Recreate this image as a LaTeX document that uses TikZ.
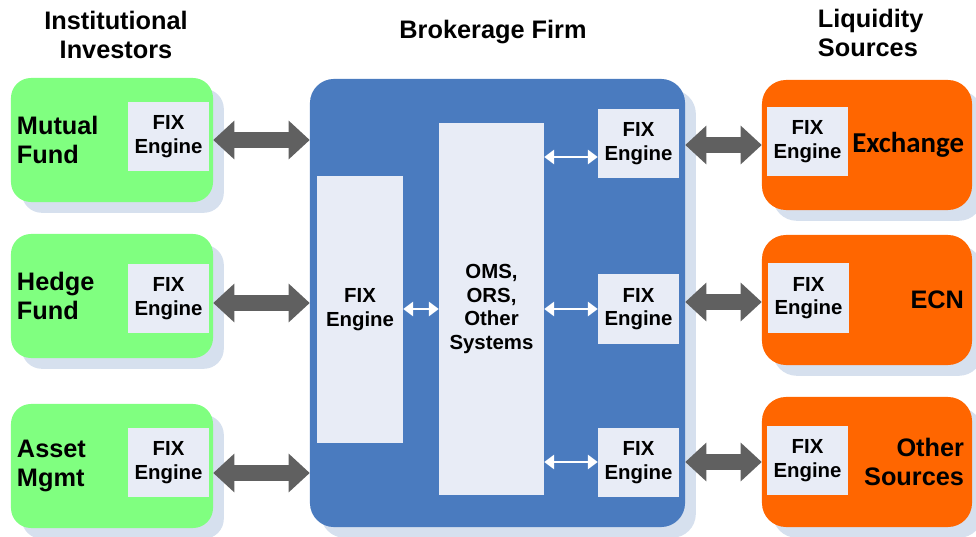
\documentclass[tikz,border=0pt]{standalone}
\usepackage{fontspec}
\setmainfont{Liberation Sans}
\newfontfamily\calfont{Carlito}
\usetikzlibrary{arrows.meta,positioning,shadows}

\definecolor{fundgreen}{HTML}{80FF80}
\definecolor{firmblue}{HTML}{4A7BBF}
\definecolor{srcorange}{HTML}{FF6600}
\definecolor{enginefill}{HTML}{E8ECF6}
\definecolor{shadowblue}{HTML}{D6E0EE}
\definecolor{pipegray}{HTML}{606060}

\begin{document}
\begin{tikzpicture}[
  x=0.025cm, y=-0.025cm,
  boxshadow/.style={drop shadow={shadow xshift=0.27cm, shadow yshift=-0.27cm, fill=shadowblue, opacity=1}},
  investor/.style={boxshadow, fill=fundgreen, rounded corners=0.5cm, minimum width=5.05cm, minimum height=3.1cm, inner xsep=0.15cm, text width=4.75cm, align=left, font=\bfseries\fontsize{18}{20.6}\selectfont},
  source/.style={boxshadow, fill=srcorange, rounded corners=0.6cm, minimum width=5.25cm, minimum height=3.25cm, inner xsep=0.2cm, text width=4.85cm, align=right, font=\bfseries\fontsize{18}{20.6}\selectfont},
  broker/.style={boxshadow, fill=firmblue, rounded corners=0.6cm, minimum width=9.375cm, minimum height=11.2cm},
  fixbox/.style={fill=enginefill, minimum width=2.025cm, minimum height=1.725cm, inner sep=0pt, align=center, font=\bfseries\fontsize{14.5}{16.8}\selectfont},
  header/.style={align=center, font=\bfseries\fontsize{18}{20.6}\selectfont},
  fatarrow/.style={draw=pipegray, line width=10.7pt, {Triangle[width=27.7pt,length=15pt,line width=0pt]}-{Triangle[width=27.7pt,length=15pt,line width=0pt]}},
  thinarrow/.style={draw=white, line width=2.1pt, {Triangle[width=10.5pt,length=7pt,line width=0pt]}-{Triangle[width=10.5pt,length=7pt,line width=0pt]}}
]
\useasboundingbox (0,0) rectangle (976,537);

% headings
\node[header] (hinv) at (116,35) {Institutional\\Investors};
\node[header] (hfirm) at (493,32) {Brokerage Firm};
\node[header, align=left, anchor=west] (hliq) at (813,33) {Liquidity\\Sources};

% institutional investors
\node[investor] (mf) at (112,140) {Mutual\\Fund};
\node[investor] (hf) at (112,296) {Hedge\\Fund};
\node[investor] (am) at (112,466) {Asset\\Mgmt};

\node[fixbox] (mffix) at (168.5,136.5) {FIX\\Engine};
\node[fixbox] (hffix) at (168.5,298.5) {FIX\\Engine};
\node[fixbox] (amfix) at (168.5,462.5) {FIX\\Engine};

% brokerage firm
\node[broker] (bb) at (497.5,303) {};
\node[fixbox, minimum width=2.15cm, minimum height=6.675cm] (bfix) at (360,309.5) {FIX\\Engine};
\node[fixbox, minimum width=2.625cm, minimum height=9.3cm] (oms) at (491.5,309) {OMS,\\ORS,\\Other\\Systems};
\node[fixbox] (rfix1) at (638.5,143.5) {FIX\\Engine};
\node[fixbox] (rfix2) at (638.5,309) {FIX\\Engine};
\node[fixbox] (rfix3) at (638.5,462.5) {FIX\\Engine};

% liquidity sources
\node[source, font=\calfont\bfseries\fontsize{20.5}{24}\selectfont] (ex) at (867,145) {Exchange};
\node[source] (ecn) at (867,300) {ECN};
\node[source] (os) at (867,462) {Other\\Sources};

\node[fixbox] (exfix) at (807.5,141.5) {FIX\\Engine};
\node[fixbox] (ecnfix) at (808.5,298) {FIX\\Engine};
\node[fixbox] (osfix) at (807.5,460.5) {FIX\\Engine};

% links
\draw[fatarrow] (mf.east |- 0,140) -- (bb.west |- 0,140);
\draw[fatarrow] (hf.east |- 0,303) -- (bb.west |- 0,303);
\draw[fatarrow] (am.east |- 0,473) -- (bb.west |- 0,473);

\draw[fatarrow] (bb.east |- 0,145) -- (ex.west |- 0,145);
\draw[fatarrow] (bb.east |- 0,302) -- (ecn.west |- 0,302);
\draw[fatarrow] (bb.east |- 0,462) -- (os.west |- 0,462);

\draw[thinarrow] (bfix.east |- 0,309) -- (oms.west |- 0,309);
\draw[thinarrow] (oms.east |- 0,157) -- (rfix1.west |- 0,157);
\draw[thinarrow] (oms.east |- 0,309) -- (rfix2.west |- 0,309);
\draw[thinarrow] (oms.east |- 0,462) -- (rfix3.west |- 0,462);

\end{tikzpicture}
\end{document}
